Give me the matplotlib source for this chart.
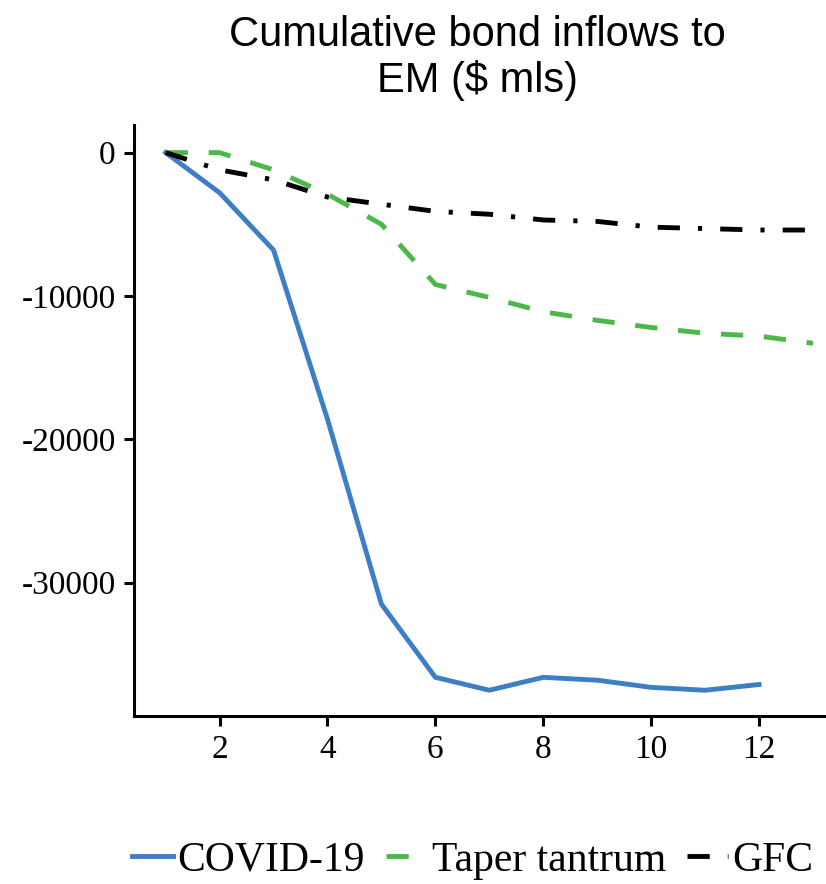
import numpy as np
import matplotlib
matplotlib.use("Agg")
import matplotlib.pyplot as plt

# months since start of episode
months = [1, 2, 3, 4, 5, 6, 7, 8, 9, 10, 11, 12]
months_long = [1, 2, 3, 4, 5, 6, 7, 8, 9, 10, 11, 12, 13]

covid = [0, -2800, -6800, -18600, -31500, -36600, -37500, -36600, -36800, -37300, -37500, -37100]
taper = [0, 0, -1200, -2900, -5000, -9200, -10100, -11100, -11700, -12200, -12600, -12800, -13300]
gfc = [0, -1200, -1900, -3100, -3600, -4100, -4300, -4700, -4800, -5200, -5300, -5400, -5400]

y_ticks = [0, -10000, -20000, -30000]
y_labels = ["0", "-10000", "-20000", "-30000"]
x_ticks = [2, 4, 6, 8, 10, 12]

plt.rcParams["lines.scale_dashes"] = False

fig = plt.figure(figsize=(8.26, 8.84), dpi=100)
ax = fig.add_axes([0.162, 0.19, 0.838, 0.669])

ax.plot(months, covid, color="#3d7fc4", lw=3.5, label="COVID-19")
ax.plot(months_long, taper, color="#4cb848", lw=3.5, dashes=(16, 15), label="Taper tantrum")
ax.plot(months_long, gfc, color="black", lw=3.5, dashes=(16, 13, 3, 13), label="GFC")

ax.set_xlim(0.41, 13.24)
ax.set_ylim(-39300, 1950)
ax.set_yticks(y_ticks)
ax.set_yticklabels(y_labels)
ax.set_xticks(x_ticks)

for s in ["top", "right"]:
    ax.spines[s].set_visible(False)
for s in ["left", "bottom"]:
    ax.spines[s].set_linewidth(2.2)
ax.tick_params(width=2.2, length=7, labelsize=24, pad=6)
for lab in ax.get_xticklabels() + ax.get_yticklabels():
    lab.set_family("Liberation Serif")

fig.text(0.578, 0.983, "Cumulative bond inflows to\nEM ($ mls)", ha="center", va="top",
         fontsize=30, family="Liberation Sans", linespacing=1.15)

leg = fig.legend(loc="lower center", bbox_to_anchor=(0.572, 0.0), ncol=3, frameon=False,
                 borderaxespad=0.0, borderpad=0.1,
                 handlelength=1.0, handletextpad=0.1, columnspacing=0.5,
                 prop={"family": "Liberation Serif", "size": 30})

fig.savefig("out.png", dpi=100)
